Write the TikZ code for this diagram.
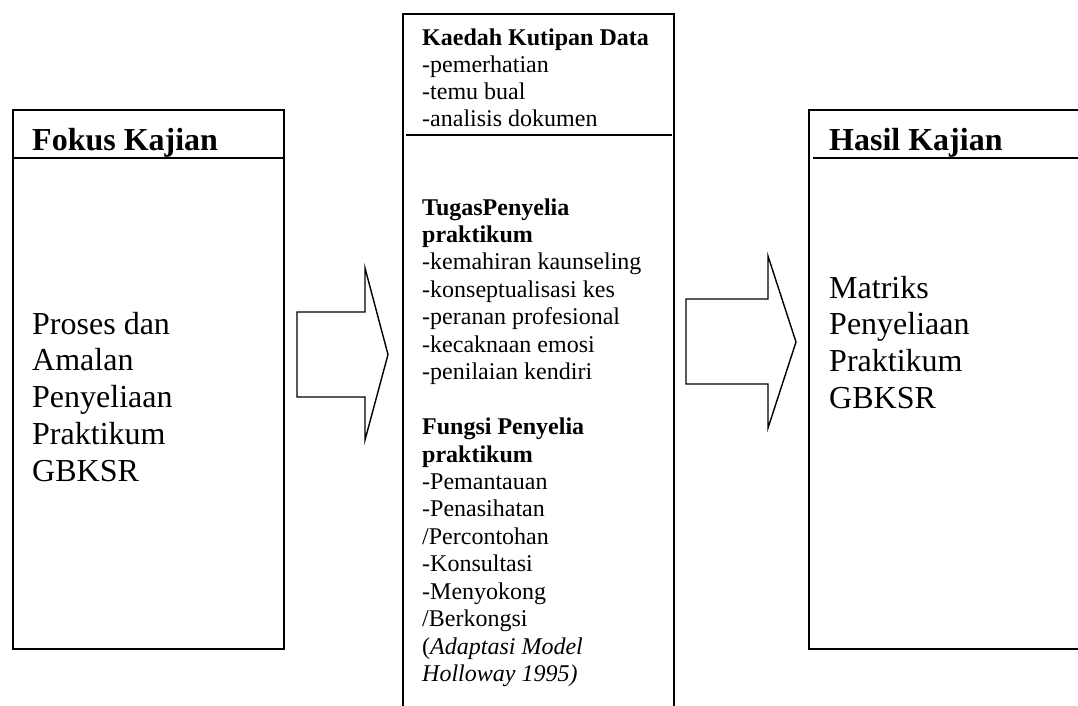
\documentclass[tikz,border=0pt]{standalone}
\usepackage{fontspec}
\setmainfont{Liberation Serif}
\begin{document}
\begin{tikzpicture}[x=1pt,y=-1pt,
  boxline/.style={draw, line width=1.6pt, inner sep=0pt, anchor=north west},
  rule/.style={line width=1.6pt},
  big/.style={font=\fontsize{32}{36.8}\selectfont, anchor=base west, inner sep=0pt},
  small/.style={font=\fontsize{24}{27.5}\selectfont, anchor=base west, inner sep=0pt},
  blockarrow/.style={draw, line width=1.4pt, line join=miter}]
\useasboundingbox (0,0) rectangle (1078,705);
\clip (0,0) rectangle (1078,705);
% boxes
\node[boxline, minimum width=271pt, minimum height=539pt] (fokus) at (12,109) {};
\node[boxline, minimum width=271pt, minimum height=720pt] (mid) at (402,13) {};
\node[boxline, minimum width=300pt, minimum height=539pt] (hasil) at (808,109) {};
% header rules
\coordinate (fr1) at (12,158); \coordinate (fr2) at (283,158);
\draw[rule] (fr1) -- (fr2);
\coordinate (mr1) at (406,135); \coordinate (mr2) at (672,135);
\draw[rule] (mr1) -- (mr2);
\coordinate (hr1) at (813,158); \coordinate (hr2) at (1090,158);
\draw[rule] (hr1) -- (hr2);
% left box text
\node[big] (fk) at (32,150) {\textbf{Fokus Kajian}};
\node[big] (fl0) at (32,334) {Proses dan};
\node[big] (fl1) at (32,370.8) {Amalan};
\node[big] (fl2) at (32,407.6) {Penyeliaan};
\node[big] (fl3) at (32,444.4) {Praktikum};
\node[big] (fl4) at (32,481.2) {GBKSR};
% right box text
\node[big] (hk) at (829,150) {\textbf{Hasil Kajian}};
\node[big] (hl0) at (829,298) {Matriks};
\node[big] (hl1) at (829,334.8) {Penyeliaan};
\node[big] (hl2) at (829,371.6) {Praktikum};
\node[big] (hl3) at (829,408.4) {GBKSR};
% middle text, top section
\node[small] (m0) at (422,45) {\textbf{Kaedah Kutipan Data}};
\node[small] (m1) at (422,72.3) {-pemerhatian};
\node[small] (m2) at (422,99.6) {-temu bual};
\node[small] (m3) at (422,126.9) {-analisis dokumen};
% middle text, lower section
\node[small] (n0) at (422,215) {\textbf{TugasPenyelia}};
\node[small] (n1) at (422,242.45) {\textbf{praktikum}};
\node[small] (n2) at (422,269.9) {-kemahiran kaunseling};
\node[small] (n3) at (422,297.35) {-konseptualisasi kes};
\node[small] (n4) at (422,324.8) {-peranan profesional};
\node[small] (n5) at (422,352.25) {-kecaknaan emosi};
\node[small] (n6) at (422,379.7) {-penilaian kendiri};
\node[small] (n8) at (422,434.6) {\textbf{Fungsi Penyelia}};
\node[small] (n9) at (422,462.05) {\textbf{praktikum}};
\node[small] (n10) at (422,489.5) {-Pemantauan};
\node[small] (n11) at (422,516.95) {-Penasihatan};
\node[small] (n12) at (422,544.4) {/Percontohan};
\node[small] (n13) at (422,571.85) {-Konsultasi};
\node[small] (n14) at (422,599.3) {-Menyokong};
\node[small] (n15) at (422,626.75) {/Berkongsi};
\node[small] (n16) at (422,654.2) {(\textit{Adaptasi Model}};
\node[small] (n17) at (422,681.65) {\textit{Holloway 1995)}};
% block arrows
\coordinate (a1) at (297,312); \coordinate (a2) at (365,312);
\coordinate (a3) at (365,268); \coordinate (a4) at (388,354.5);
\coordinate (a5) at (365,440); \coordinate (a6) at (365,397);
\coordinate (a7) at (297,397);
\draw[blockarrow] (a1) -- (a2) -- (a3) -- (a4) -- (a5) -- (a6) -- (a7) -- cycle;
\coordinate (b1) at (686,299); \coordinate (b2) at (768,299);
\coordinate (b3) at (768,256); \coordinate (b4) at (796,342);
\coordinate (b5) at (768,428); \coordinate (b6) at (768,384);
\coordinate (b7) at (686,384);
\draw[blockarrow] (b1) -- (b2) -- (b3) -- (b4) -- (b5) -- (b6) -- (b7) -- cycle;
\end{tikzpicture}
\end{document}
